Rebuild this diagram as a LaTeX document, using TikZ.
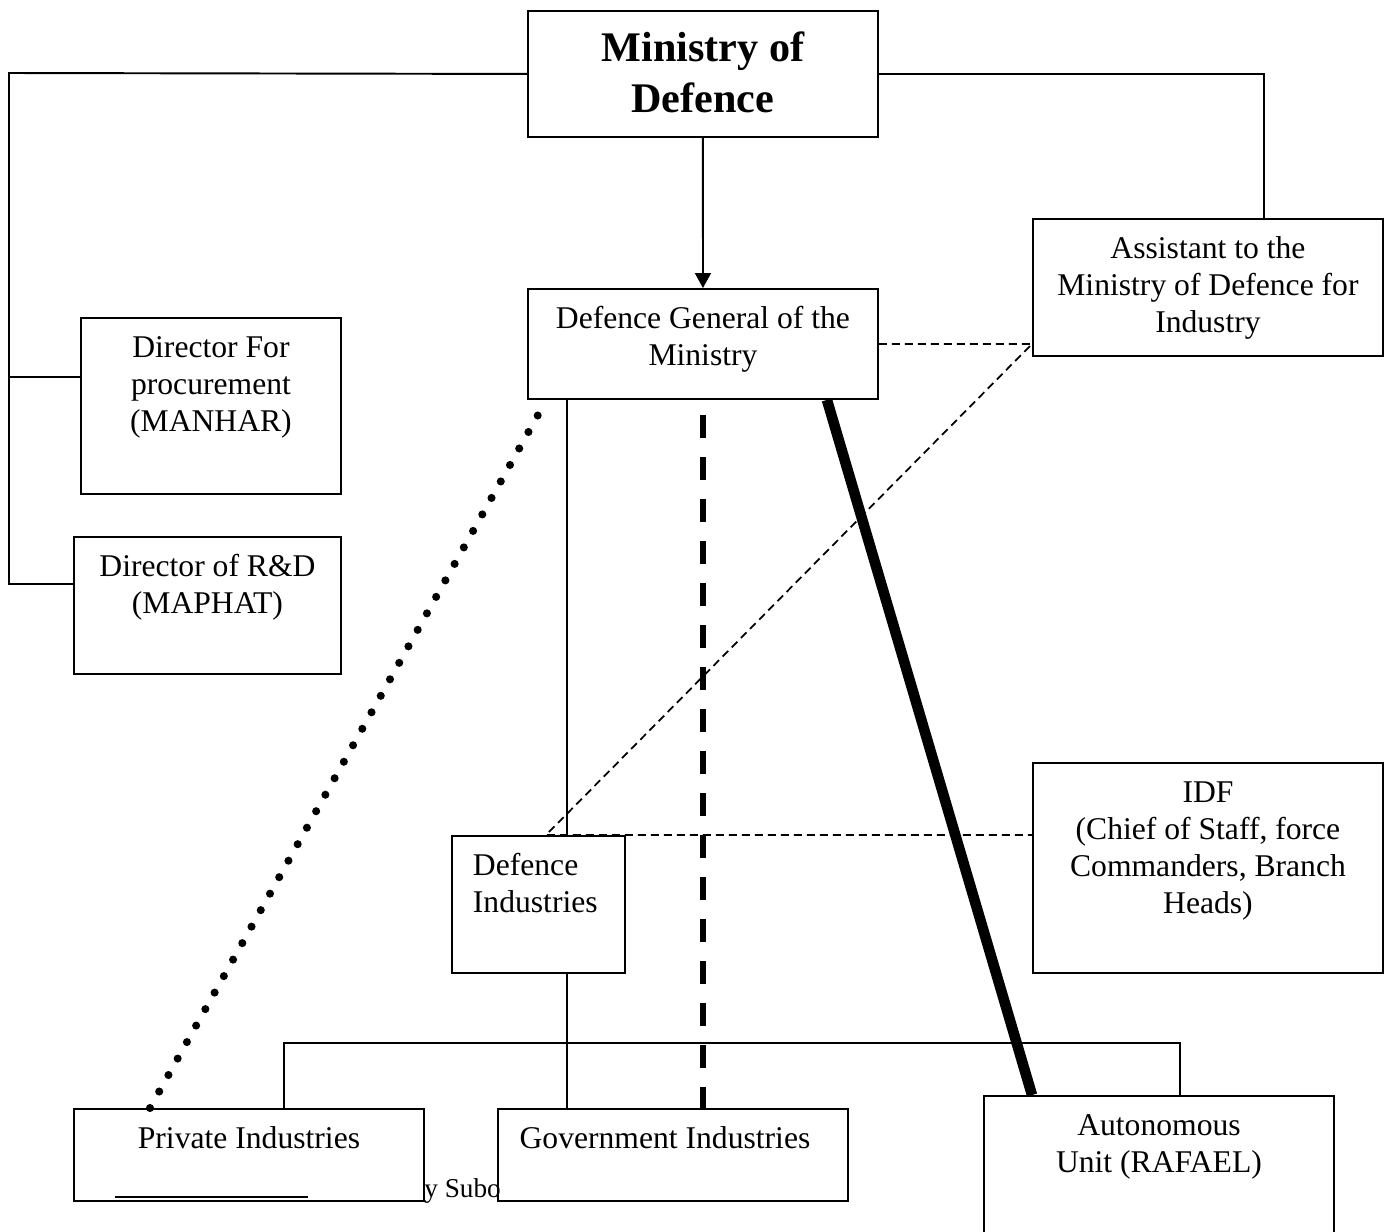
\documentclass[tikz,border=0pt]{standalone}
\usepackage{fontspec}
\setmainfont{Liberation Serif}
\usetikzlibrary{arrows.meta}
\newcommand{\orgtext}[4][\centering]{\parbox[c][\dimexpr0.02cm*#3\relax][t]{\dimexpr0.02cm*#2\relax}{#1\fontsize{18pt}{21pt}\selectfont\rule{0pt}{0.8cm}#4}}
\begin{document}
\begin{tikzpicture}[x=0.02cm,y=-0.02cm,
	orgbox/.style={draw,fill=white,line width=1.1pt,inner sep=0pt,anchor=north west},
	link/.style={line width=1.1pt},
	thindash/.style={line width=1pt,dash pattern=on 0.16cm off 0.1cm},
	boldline/.style={line width=6pt},
	bolddash/.style={line width=3.4pt,dash pattern=on 0.46cm off 0.38cm},
	dotline/.style={line width=4.6pt,line cap=round,dash pattern=on 0pt off 0.378cm}]
	\clip (0,0) rectangle (1385,1231);
	\node (ministry) at (527,10) [orgbox] {\parbox[c][2.52cm][t]{7cm}{\centering\bfseries\fontsize{24pt}{29pt}\selectfont\rule{0pt}{1.02cm}Ministry of\\Defence}};
	\node (general) at (527,288) [orgbox] {\orgtext{350}{110}{Defence General of the\\Ministry}};
	\node (assistant) at (1032,218) [orgbox] {\orgtext{350}{137}{Assistant to the\\Ministry of Defence for\\Industry}};
	\node (procure) at (80,317) [orgbox] {\orgtext{260}{176}{Director For\\procurement\\(MANHAR)}};
	\node (rnd) at (73,536) [orgbox] {\orgtext{267}{137}{Director of R\&D\\(MAPHAT)}};
	\node (defind) at (451,835) [orgbox] {\orgtext[\raggedright\leftskip=0.42cm]{173}{137}{Defence\\Industries}};
	\node (idf) at (1032,762) [orgbox] {\orgtext{350}{210}{IDF\\(Chief of Staff, force\\Commanders, Branch\\Heads)}};
	\node (private) at (73,1108) [orgbox] {\orgtext{350}{92}{Private Industries}};
	\node (govt) at (497,1108) [orgbox] {\orgtext[\centering\rightskip=0.32cm plus 1fil]{350}{92}{Government Industries}};
	\node (rafael) at (983,1095) [orgbox] {\orgtext{350}{150}{Autonomous\\Unit (RAFAEL)}};
	\node (subo) at (424,1197) [anchor=base west,inner sep=0pt,font=\fontsize{15.5pt}{18pt}\selectfont] {y Subo};
	\draw [line width=1.2pt] (115,1197) -- (308,1197);
	\coordinate (spine) at (9,73);
	\coordinate (trunk) at (567,0);
	\coordinate (busL) at (284,1043);
	\coordinate (busR) at (1180,1043);
	\coordinate (procjoin) at ([yshift=0.58cm]procure.west);
	\draw [link] (ministry.west) -- (spine) |- ([yshift=0.43cm]rnd.west);
	\draw [link] (spine |- procjoin) -- (procjoin);
	\draw [link] (ministry.east) -| ([xshift=1.12cm]assistant.north);
	\draw [link,-{Triangle[width=0.32cm,length=0.3cm]}] (ministry.south) -- (general.north);
	\draw [link] (trunk |- general.south) -- (trunk |- defind.north);
	\draw [link] (trunk |- defind.south) -- (trunk |- govt.north);
	\draw [link] (busL |- private.north) -- (busL) -- (busR) -- (busR |- rafael.north);
	\draw [thindash] (general.east) -- (general.east -| assistant.west)
		-- ([xshift=1.9cm]defind.north west) -- (defind.north -| idf.west);
	\draw [bolddash] ([yshift=-0.3cm]general.south) -- (general.south |- govt.north);
	\draw [boldline] ([xshift=-1.04cm]general.south east) -- ([xshift=0.98cm]rafael.north west);
	\draw [dotline] ([xshift=1.54cm]private.north west) -- ([shift={(0.22cm,-0.3cm)}]general.south west);
\end{tikzpicture}
\end{document}
